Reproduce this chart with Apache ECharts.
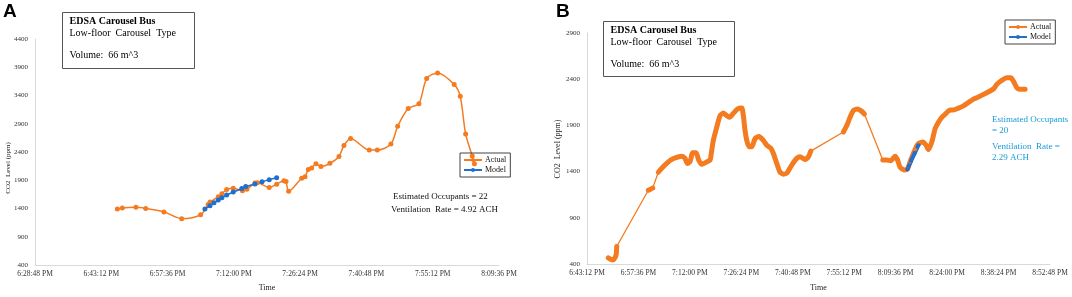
<!DOCTYPE html>
<html>
<head>
<meta charset="utf-8">
<title>EDSA Carousel Bus - CO2 level</title>
<script src="https://cdn.jsdelivr.net/npm/echarts@6.0.0/dist/echarts.min.js"></script>
<style>
html, body { margin: 0; padding: 0; background: #fff; }
#chart { width: 1072px; height: 297px; }
</style>
</head>
<body>
<div id="chart"></div>
<script>
// ---- panel A ----
var timesA = ['18:46:41', '18:47:46', '18:50:44', '18:52:51', '18:56:49', '19:00:40', '19:04:47',
    '19:06:25', '19:06:50', '19:08:37', '19:09:24', '19:10:26', '19:11:52', '19:13:52', '19:14:50',
    '19:16:35', '19:17:05', '19:19:41', '19:21:18', '19:22:53', '19:23:20', '19:23:54', '19:26:44',
    '19:27:27', '19:28:10', '19:28:54', '19:29:50', '19:30:55', '19:32:52', '19:34:50', '19:35:55',
    '19:37:22', '19:41:25', '19:43:09', '19:46:07', '19:47:35', '19:49:53', '19:52:12', '19:53:53',
    '19:56:16', '19:59:52', '20:01:11', '20:02:21', '20:03:47', '20:04:16'];
var actualA = [1390, 1410, 1420, 1400, 1340, 1220, 1290,
    1470, 1515, 1610, 1660, 1735, 1760, 1715, 1740,
    1850, 1855, 1770, 1830, 1890, 1880, 1705, 1935,
    1960, 2090, 2115, 2190, 2145, 2200, 2320, 2515,
    2640, 2435, 2435, 2540, 2855, 3170, 3255, 3700,
    3800, 3595, 3385, 2720, 2330, 2190];
var modelTimesA = ['19:05:43', '19:06:49', '19:07:41', '19:08:37', '19:09:24', '19:10:26', '19:11:52',
    '19:13:44', '19:14:35', '19:16:35', '19:18:07', '19:19:41', '19:21:18'];
var modelA = [1390, 1450, 1500, 1550, 1590, 1640, 1690, 1755, 1790, 1835, 1875, 1910, 1945];
var yTicksA = [400, 900, 1400, 1900, 2400, 2900, 3400, 3900, 4400];
var xRangeA = ['18:28:48', '20:09:36'];

// ---- panel B ----
var timesB = ['18:49:10', '18:49:55', '18:50:34', '18:51:19', '18:51:31', '19:00:22', '19:00:59',
    '19:01:36', '19:03:10', '19:04:07', '19:05:31', '19:06:55', '19:08:19', '19:09:43', '19:10:38',
    '19:11:17', '19:12:02', '19:12:48', '19:13:43', '19:14:29', '19:15:19', '19:16:31', '19:17:38',
    '19:17:55', '19:18:34', '19:19:31', '19:20:26', '19:21:22', '19:22:12', '19:23:03', '19:24:10',
    '19:25:17', '19:26:31', '19:26:58', '19:27:26', '19:27:55', '19:28:34', '19:29:19', '19:30:14',
    '19:31:22', '19:32:34', '19:33:31', '19:34:43', '19:35:22', '19:36:19', '19:37:14', '19:38:10',
    '19:39:07', '19:40:31', '19:41:55', '19:42:50', '19:44:14', '19:45:10', '19:45:50', '19:54:58',
    '19:55:55', '19:56:50', '19:57:46', '19:58:53', '20:00:07', '20:00:51', '20:06:00', '20:07:07',
    '20:08:14', '20:09:26', '20:10:05', '20:10:50', '20:11:58', '20:12:53', '20:13:38', '20:15:02',
    '20:15:58', '20:17:12', '20:18:07', '20:18:46', '20:19:43', '20:20:38', '20:21:34', '20:22:31',
    '20:23:43', '20:24:50', '20:25:46', '20:27:10', '20:28:34', '20:29:58', '20:31:22', '20:32:12',
    '20:33:03', '20:33:48', '20:34:38', '20:36:02', '20:37:10', '20:37:55', '20:39:19', '20:40:43',
    '20:41:50', '20:42:34', '20:43:31', '20:44:26', '20:45:50'];
var actualB = [467, 450, 446, 493, 589, 1198, 1210,
    1222, 1393, 1436, 1489, 1532, 1553, 1567, 1543,
    1489, 1507, 1604, 1604, 1525, 1479, 1500, 1525,
    1578, 1738, 1881, 2005, 2034, 2010, 1988, 2031,
    2077, 2087, 2005, 1845, 1738, 1668, 1668, 1756,
    1781, 1738, 1685, 1650, 1596, 1489, 1393, 1372,
    1383, 1471, 1543, 1561, 1532, 1561, 1621, 1828,
    1898, 1988, 2059, 2077, 2052, 2023, 1525, 1525,
    1518, 1567, 1532, 1447, 1418, 1425, 1507, 1639,
    1703, 1721, 1685, 1639, 1721, 1863, 1935, 1988,
    2031, 2066, 2066, 2087, 2112, 2148, 2184, 2198,
    2212, 2228, 2244, 2272, 2301, 2344, 2387, 2415,
    2415, 2379, 2308, 2290, 2290];
var modelTimesB = ['20:12:53', '20:13:55', '20:14:57', '20:15:58'];
var modelB = [1425, 1515, 1600, 1685];
var yTicksB = [400, 900, 1400, 1900, 2400, 2900];
var xRangeB = ['18:43:12', '20:52:48'];

var xStep = '0:14:24';
var orange = '#f47b20', blue = '#1f6fcf', noteBlue = '#1a9bd7';
var serif = 'Liberation Serif';

function toSec(s) {
    var p = s.split(':');
    return (+p[0]) * 3600 + (+p[1]) * 60 + (+p[2]);
}

function pad(n) {
    return n < 10 ? '0' + n : '' + n;
}

function fmtTime(v) {
    v = Math.round(v);
    var h = Math.floor(v / 3600), m = Math.floor(v % 3600 / 60), s = v % 60;
    var ap = h >= 12 ? 'PM' : 'AM';
    return (h % 12 || 12) + ':' + pad(m) + ':' + pad(s) + ' ' + ap;
}

function pairs(times, vals) {
    return times.map(function(t, i) {
        return [toSec(t), vals[i]];
    });
}

// dense logging bursts (samples < 90 s apart) get the thick look
function bursts(times, vals) {
    var out = [], cur = [];
    var pts = pairs(times, vals);
    pts.forEach(function(p, i) {
        if (i > 0 && p[0] - pts[i - 1][0] > 90) {
            if (cur.length > 1) out.push(cur);
            cur = [];
        }
        cur.push(p);
    });
    if (cur.length > 1) out.push(cur);
    return out;
}

function xAxisOf(idx, range) {
    return {
        type: 'value', gridIndex: idx,
        min: toSec(range[0]), max: toSec(range[1]), interval: toSec(xStep),
        name: 'Time', nameLocation: 'middle', nameGap: idx === 0 ? 19 : 20,
        nameTextStyle: {fontFamily: serif, fontSize: 8, color: '#222'},
        axisLine: {lineStyle: {color: '#d9d9d9'}},
        axisTick: {show: false},
        splitLine: {show: false},
        axisLabel: {
            formatter: fmtTime, fontFamily: serif, fontSize: 7.5, color: '#333', margin: 5,
            showMinLabel: true, showMaxLabel: true
        }
    };
}

function yAxisOf(idx, ticks) {
    return {
        type: 'value', gridIndex: idx,
        min: ticks[0], max: ticks[ticks.length - 1],
        axisLine: {show: true, lineStyle: {color: '#d9d9d9'}},
        axisTick: {show: false},
        splitLine: {show: false},
        axisLabel: {
            customValues: ticks, fontFamily: serif, fontSize: 7, color: '#333', margin: 7,
            formatter: function(v) {
                return String(v);
            }
        }
    };
}

function legendOf(left, top) {
    return {
        left: left, top: top, orient: 'vertical',
        data: ['Actual', 'Model'],
        borderColor: '#444', borderWidth: 1, borderRadius: 0,
        padding: [3, 4, 3, 3], itemGap: 2, itemWidth: 18, itemHeight: 5,
        selectedMode: false,
        textStyle: {fontFamily: serif, fontSize: 8, color: '#111', padding: [0, 0, 0, -2]}
    };
}

function infoBox(x, y, w, h) {
    return {
        type: 'group', left: x, top: y,
        children: [
            {type: 'rect', shape: {x: 0, y: 0, width: w, height: h},
                style: {fill: '#fff', stroke: '#555', lineWidth: 1}},
            {type: 'text', x: 7, y: 9, style: {text: 'EDSA Carousel Bus', font: 'bold 10px ' + serif,
                fill: '#000', verticalAlign: 'middle'}},
            {type: 'text', x: 7, y: 21, style: {text: 'Low-floor  Carousel  Type', font: '10px ' + serif,
                fill: '#000', verticalAlign: 'middle'}},
            {type: 'text', x: 7, y: 43, style: {text: 'Volume:  66 m^3', font: '10px ' + serif,
                fill: '#000', verticalAlign: 'middle'}}
        ]
    };
}

function label(text, x, y, font, color, rot) {
    return {
        type: 'text', x: x, y: y, rotation: rot || 0,
        style: {text: text, font: font, fill: color || '#000',
            align: rot ? 'center' : 'left', verticalAlign: 'middle'}
    };
}

var series = [
    {name: 'Actual', type: 'line', xAxisIndex: 0, yAxisIndex: 0, smooth: 0.3,
        symbol: 'circle', symbolSize: 5, data: pairs(timesA, actualA),
        lineStyle: {color: orange, width: 1.5}, itemStyle: {color: orange}},
    {name: 'Model', type: 'line', xAxisIndex: 0, yAxisIndex: 0, smooth: 0.3,
        symbol: 'circle', symbolSize: 5, data: pairs(modelTimesA, modelA),
        lineStyle: {color: blue, width: 1.5}, itemStyle: {color: blue}},
    {name: 'Actual', type: 'line', xAxisIndex: 1, yAxisIndex: 1,
        symbol: 'circle', symbolSize: 4, data: pairs(timesB, actualB),
        lineStyle: {color: orange, width: 1.3}, itemStyle: {color: orange}}
];
bursts(timesB, actualB).forEach(function(seg) {
    series.push({name: 'burst', type: 'line', xAxisIndex: 1, yAxisIndex: 1, silent: true,
        showSymbol: false, smooth: 0.2, data: seg,
        lineStyle: {color: orange, width: 5, cap: 'round', join: 'round'}});
});
series.push({name: 'Model', type: 'line', xAxisIndex: 1, yAxisIndex: 1,
    symbol: 'circle', symbolSize: 4, data: pairs(modelTimesB, modelB),
    lineStyle: {color: blue, width: 4, cap: 'round'}, itemStyle: {color: blue}});

var myChart = echarts.init(document.getElementById('chart'), null, {renderer: 'canvas'});
myChart.setOption({
    animation: false,
    backgroundColor: '#fff',
    grid: [
        {left: 35, top: 39, width: 464, height: 234},
        {left: 587, top: 33, width: 463, height: 234}
    ],
    xAxis: [xAxisOf(0, xRangeA), xAxisOf(1, xRangeB)],
    yAxis: [yAxisOf(0, yTicksA), yAxisOf(1, yTicksB)],
    legend: [legendOf(460, 153), legendOf(1005, 20)],
    series: series,
    graphic: [
        label('A', 3, 12, 'bold 19px Liberation Sans', '#000'),
        label('B', 556, 12, 'bold 19px Liberation Sans', '#000'),
        infoBox(62, 12, 132, 56),
        infoBox(603, 21, 131, 55),
        label('CO2  Level (ppm)', 8, 168, '7px ' + serif, '#222', Math.PI / 2),
        label('CO2  Level (ppm)', 558, 149, '8px ' + serif, '#222', Math.PI / 2),
        label('Estimated Occupants = 22', 393, 197, '9px ' + serif, '#111'),
        label('Ventilation  Rate = 4.92 ACH', 391, 210, '9px ' + serif, '#111'),
        label('Estimated Occupants', 992, 120, '9px ' + serif, noteBlue),
        label('= 20', 992, 131, '9px ' + serif, noteBlue),
        label('Ventilation  Rate =', 992, 147, '9px ' + serif, noteBlue),
        label('2.29 ACH', 992, 158, '9px ' + serif, noteBlue)
    ]
});
</script>
</body>
</html>
